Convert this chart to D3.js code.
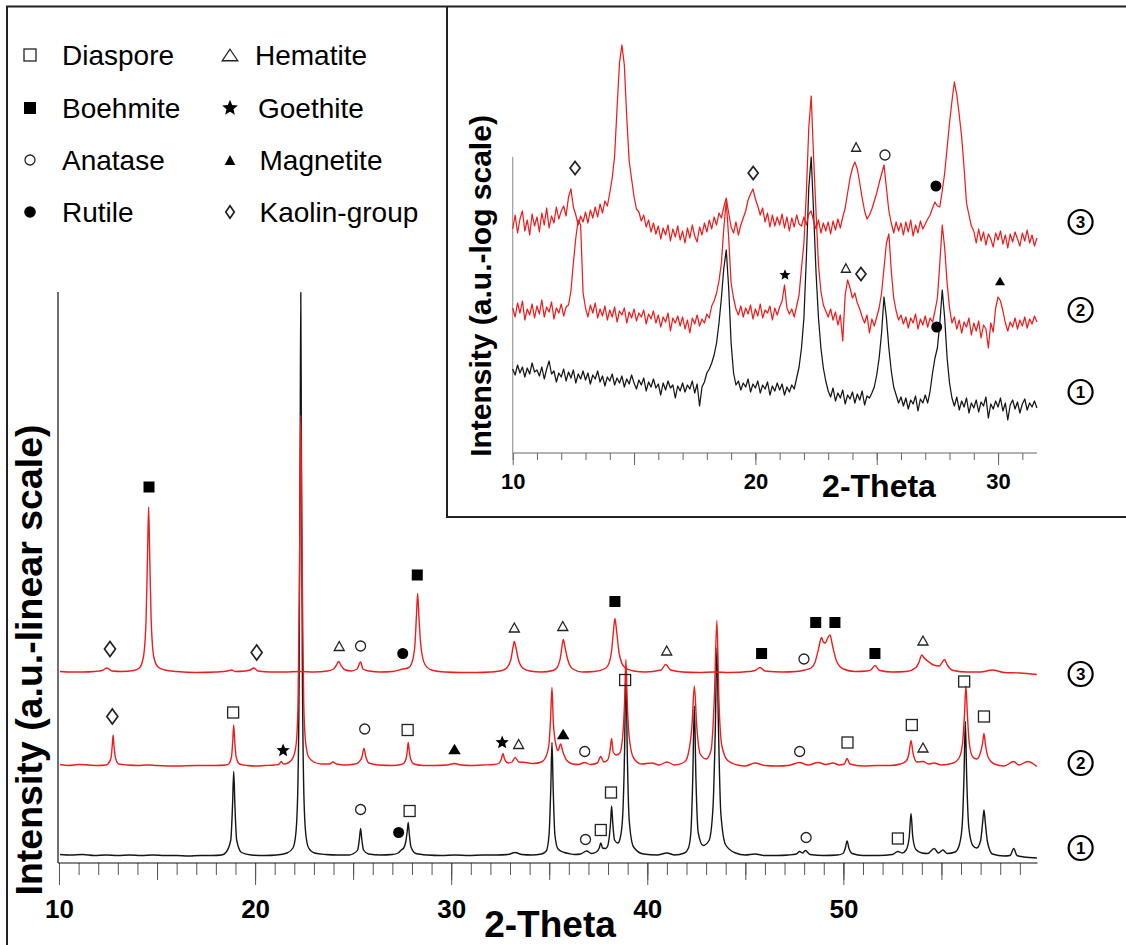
<!DOCTYPE html>
<html>
<head>
<meta charset="utf-8">
<script src="https://cdn.jsdelivr.net/npm/d3@7"></script>
<style>
  body { margin: 0; background: #fff; }
  svg { display: block; }
  .narrow { font-family: "Liberation Sans Narrow", "Arial Narrow", "Liberation Sans", sans-serif; font-weight: bold; }
  .sans { font-family: "Liberation Sans", Arial, sans-serif; }
</style>
</head>
<body>
<svg id="chart" width="1126" height="945"></svg>
<script>
// ---------------- data ----------------
// XRD patterns, linear intensity (a.u.), [2-theta, intensity] per sample.
// Samples are stacked with a vertical offset.
const sample1 = [[10.05,17],[10.6,16],[11.2,17],[11.8,15],[12.4,16],[13.0,15],[13.6,16],[14.2,15],[14.8,16],[15.4,15],[16.0,15],[16.6,14],[17.2,15],[17.8,15],[18.3,16],
  [18.51,21],[18.76,46],[18.85,116],[18.91,183],[18.97,116],[19.06,46],[19.31,21],
  [19.8,16],[20.5,15],[21.1,16],
  [21.63,20],[21.93,30],[22.08,60],[22.18,150],[22.25,400],[22.30,850],[22.33,1141],[22.36,850],[22.41,400],[22.48,150],[22.58,60],[22.73,30],[23.03,20],
  [23.6,17],[24.2,16],[24.8,16],
  [24.98,18],[25.23,26],[25.32,48],[25.38,69],[25.44,48],[25.53,26],[25.78,18],
  [26.4,16],[27.0,17],[27.3,20],[27.45,26],[27.58,30],[27.68,42],[27.76,64],[27.81,81],[27.86,60],[27.95,32],[28.2,19],
  [28.8,16],[29.5,15],[30.2,16],[30.9,15],[31.6,16],[32.3,16],[32.9,17],[33.26,21],[33.6,17],[34.1,16],[34.6,18],
  [34.85,24],[34.99,56],[35.08,151],[35.14,241],[35.2,151],[35.29,56],[35.45,28],
  [35.77,21],[36.0,19],[36.3,17],[36.6,18],[36.91,24],[37.15,19],
  [37.4,22],[37.55,30],[37.63,40],[37.72,30],[37.88,29],
  [37.98,34],[38.07,55],[38.13,82],[38.18,114],[38.24,80],[38.33,46],[38.5,40],
  [38.62,50],[38.74,90],[38.84,220],[38.91,390],[38.98,220],[39.08,85],[39.3,32],[39.8,18],
  [40.5,16],[41.0,20],[41.4,16],[41.9,20],
  [42.1,30],[42.22,60],[42.32,170],[42.40,314],[42.48,170],[42.6,60],[42.85,35],
  [43.15,45],[43.35,110],[43.47,270],[43.55,430],[43.63,270],[43.75,100],[44.0,36],[44.5,20],
  [45.0,16],[45.49,18],[46.0,15],[46.6,15],[47.2,16],[47.6,18],[47.77,23],[47.92,20],[48.06,25],[48.3,17],[49.0,15],[49.7,16],
  [49.98,19],[50.1,30],[50.19,44],[50.28,30],[50.45,19],
  [51.0,15],[51.8,15],[52.5,17],[52.78,23],[53.0,20],
  [53.2,26],[53.36,52],[53.45,99],[53.54,52],[53.7,27],[54.0,20],[54.3,19],[54.63,29],[54.85,20],[55.07,26],[55.3,19],[55.7,22],
  [55.88,32],[56.05,70],[56.15,170],[56.22,283],[56.29,170],[56.4,70],[56.6,35],
  [56.8,30],[57.0,45],[57.1,80],[57.17,106],[57.24,80],[57.35,42],[57.6,18],[58.2,14],[58.5,15],[58.69,29],[58.85,15],[59.2,12],[59.87,10]];

const sample2 = [[10.05,17],[10.5,15],[11.0,17],[11.5,16],[12.0,15],[12.4,16],
  [12.5,18],[12.65,30],[12.71,52],[12.76,76],[12.81,52],[12.88,30],[13.05,18],
  [13.5,16],[14.0,15],[14.5,16],[15.0,15],[16.0,14],[17.0,15],[18.0,15],[18.5,16],
  [18.65,18],[18.8,33],[18.86,64],[18.91,96],[18.96,64],[19.03,33],[19.2,18],
  [19.6,15],[20.0,14],[20.5,15],[21.0,16],[21.2,17],[21.34,23],[21.45,18],
  [21.68,20],[21.95,32],[22.1,60],[22.19,140],[22.26,380],[22.30,600],[22.33,716],[22.36,600],[22.41,380],[22.48,140],[22.58,60],[22.73,32],[23.0,22],
  [23.4,18],[23.8,18],[23.97,22],[24.15,18],[24.6,16],[25.1,18],
  [25.3,22],[25.45,32],[25.55,49],[25.65,32],[25.8,20],
  [26.3,16],[27.0,15],[27.45,17],
  [27.6,20],[27.72,32],[27.77,48],[27.81,61],[27.86,45],[27.93,28],[28.1,18],
  [28.6,15],[29.2,15],[29.8,16],[30.17,19],[30.5,16],[31.0,15],[31.6,16],[32.2,17],
  [32.45,20],[32.56,28],[32.64,39],[32.72,28],[32.9,20],
  [33.1,22],[33.26,31],[33.45,22],[33.8,21],[34.2,19],[34.6,22],
  [34.8,30],[34.98,55],[35.07,110],[35.14,171],[35.21,100],[35.35,55],
  [35.45,45],[35.58,58],[35.7,42],[35.9,25],[36.2,18],[36.5,17],[36.81,21],[37.1,17],
  [37.45,20],[37.63,33],[37.78,22],
  [37.98,26],[38.1,45],[38.18,69],[38.26,42],[38.42,36],
  [38.6,40],[38.75,75],[38.85,150],[38.91,227],[38.97,150],[39.07,75],[39.3,30],[39.7,18],
  [40.24,20],[40.6,16],[41.0,22],[41.4,16],[41.9,22],
  [42.1,40],[42.28,95],[42.40,174],[42.52,95],[42.7,38],
  [43.0,28],[43.25,45],[43.42,150],[43.55,305],[43.65,150],[43.8,55],[44.1,25],[44.6,16],
  [45.0,14],[45.49,20],[46.0,15],[46.6,14],[47.2,15],[47.77,21],[48.2,16],[48.72,21],[49.1,17],[49.47,20],[49.8,16],
  [50.05,18],[50.19,29],[50.33,18],
  [51.0,14],[51.7,15],[52.4,15],[52.9,18],
  [53.2,24],[53.35,40],[53.45,65],[53.55,40],[53.75,22],
  [54.06,23],[54.35,18],[54.63,20],[55.0,16],[55.6,20],
  [55.9,30],[56.08,60],[56.18,120],[56.25,174],[56.32,120],[56.42,60],[56.6,32],[56.8,28],
  [57.0,42],[57.1,60],[57.17,79],[57.25,55],[57.4,30],[57.7,18],[58.2,14],
  [58.69,23],[58.95,16],[59.4,23],[59.87,13]];

const sample3 = [[10.05,17],[10.6,16],[11.2,16],[11.8,17],[12.2,19],[12.45,24],[12.7,18],
  [13.2,17],[13.8,19],
  [14.1,24],[14.3,45],[14.44,120],[14.52,260],[14.57,346],[14.62,260],[14.7,120],[14.84,45],[15.05,26],[15.4,20],
  [16.0,17],[17.0,15],[18.0,16],[18.6,18],[18.8,20],[19.0,17],[19.5,18],
  [19.75,20],[19.93,24],[20.15,18],
  [20.8,16],[21.5,16],[22.3,17],[23.0,16],[23.7,18],
  [24.0,22],[24.15,30],[24.26,37],[24.37,30],[24.55,21],
  [24.9,18],[25.2,22],[25.38,36],[25.5,22],[25.8,18],
  [26.4,16],[27.0,17],[27.53,22],[27.8,24],
  [28.0,35],[28.15,70],[28.23,130],[28.29,173],[28.35,130],[28.45,70],[28.65,32],[29.0,20],
  [29.7,16],[30.5,15],[31.3,15],[32.0,16],[32.6,19],
  [32.85,25],[33.05,42],[33.15,65],[33.22,77],[33.3,65],[33.42,42],[33.65,24],[34.0,18],
  [34.6,16],[35.2,19],
  [35.4,25],[35.57,45],[35.66,70],[35.72,81],[35.8,66],[35.95,40],[36.2,22],
  [36.7,16],[37.3,17],[37.8,22],
  [37.98,28],[38.17,55],[38.28,100],[38.35,123],[38.43,100],[38.58,50],[38.85,25],[39.3,18],
  [39.9,16],[40.7,20],[40.94,31],[41.2,20],
  [41.8,16],[42.6,15],[43.4,16],[44.2,15],[45.2,17],[45.5,19],[45.75,25],[46.0,18],[46.9,16],[47.6,17],[48.04,20],[48.35,24],
  [48.55,35],[48.72,60],[48.82,78],[48.89,85],[48.98,76],[49.08,74],[49.2,84],[49.32,90],[49.45,68],[49.65,38],[50.0,22],
  [50.6,17],[51.2,18],[51.4,20],[51.61,29],[51.85,19],
  [52.5,16],[53.2,17],[53.7,25],
  [53.85,35],[54.0,50],[54.12,44],[54.3,38],[54.6,30],
  [54.9,28],[55.05,36],[55.15,41],[55.3,30],[55.6,19],
  [56.3,16],[57.0,16],[57.6,20],[58.2,15],[59.0,14],[59.87,11]];

const stackOffset = [0, 180, 366];          // vertical shift of samples 1, 2, 3
const sampleNames = ["1", "2", "3"];
const labelLevel = [30, 200, 378];           // where the sample numbers sit (a.u.)

// Log-scale detail, 10-31.6 deg, step 0.1 deg; values are log10 intensity (a.u., stacked)
const insetStart = 10.0, insetStep = 0.1;
const logSample1 = [
  1.84,1.78,1.88,1.80,1.86,1.76,1.85,1.79,1.90,1.81,
  1.83,1.77,1.86,1.74,1.84,1.92,1.79,1.82,1.71,1.80,
  1.76,1.84,1.72,1.81,1.75,1.83,1.70,1.79,1.74,1.82,
  1.73,1.80,1.69,1.78,1.74,1.82,1.71,1.77,1.67,1.76,
  1.72,1.79,1.68,1.75,1.70,1.77,1.66,1.74,1.69,1.78,
  1.70,1.64,1.73,1.68,1.75,1.62,1.71,1.66,1.74,1.65,
  1.69,1.58,1.70,1.63,1.72,1.65,1.68,1.55,1.67,1.62,
  1.70,1.61,1.68,1.64,1.72,1.60,1.69,1.47,1.66,1.71,
  1.80,1.84,1.90,1.98,2.10,2.30,2.55,2.85,3.03,2.65,
  2.10,1.80,1.68,1.72,1.63,1.70,1.66,1.74,1.61,1.69,
  1.65,1.72,1.60,1.68,1.64,1.71,1.58,1.67,1.62,1.70,
  1.63,1.69,1.58,1.66,1.61,1.68,1.64,1.75,1.86,2.05,
  2.35,2.95,3.65,3.96,3.40,2.80,2.35,2.05,1.85,1.72,
  1.62,1.56,1.65,1.52,1.60,1.55,1.63,1.49,1.58,1.54,
  1.61,1.50,1.59,1.53,1.62,1.48,1.57,1.55,1.60,1.66,
  1.78,1.95,2.20,2.56,2.35,2.05,1.82,1.66,1.58,1.50,
  1.56,1.47,1.55,1.44,1.53,1.49,1.57,1.42,1.54,1.50,
  1.58,1.50,1.62,1.80,1.95,2.05,2.30,2.63,2.35,1.95,
  1.70,1.55,1.47,1.56,1.43,1.52,1.46,1.55,1.40,1.50,
  1.45,1.53,1.41,1.51,1.47,1.56,1.35,1.49,1.44,1.52,
  1.46,1.55,1.42,1.50,1.33,1.48,1.53,1.44,1.51,1.40,
  1.49,1.54,1.43,1.50,1.46,1.52,1.45];
const logSample2 = [
  2.45,2.36,2.50,2.40,2.52,2.33,2.44,2.38,2.49,2.35,
  2.47,2.39,2.53,2.36,2.46,2.41,2.51,2.34,2.45,2.40,
  2.49,2.37,2.46,2.48,2.62,2.90,3.15,3.33,3.28,2.60,
  2.45,2.36,2.48,2.40,2.50,2.35,2.44,2.37,2.47,2.33,
  2.43,2.36,2.46,2.31,2.42,2.38,2.45,2.30,2.41,2.35,
  2.44,2.32,2.40,2.36,2.43,2.29,2.39,2.34,2.42,2.30,
  2.38,2.26,2.36,2.31,2.40,2.22,2.35,2.30,2.37,2.27,
  2.36,2.24,2.33,2.20,2.35,2.29,2.38,2.27,2.34,2.30,
  2.39,2.35,2.47,2.52,2.60,2.72,2.90,3.25,3.52,3.15,
  2.70,2.55,2.44,2.38,2.47,2.36,2.45,2.39,2.48,2.34,
  2.44,2.37,2.49,2.35,2.43,2.40,2.47,2.33,2.45,2.38,
  2.46,2.52,2.68,2.45,2.39,2.44,2.36,2.47,2.58,2.85,
  3.10,3.60,4.25,4.57,3.95,3.40,2.88,2.62,2.48,2.42,
  2.36,2.44,2.33,2.41,2.28,2.38,2.12,2.58,2.73,2.65,
  2.55,2.60,2.50,2.44,2.36,2.30,2.38,2.20,2.34,2.27,
  2.36,2.45,2.60,2.85,3.10,3.19,2.82,2.55,2.42,2.33,
  2.38,2.29,2.36,2.25,2.35,2.30,2.39,2.24,2.34,2.28,
  2.37,2.26,2.35,2.31,2.42,2.55,2.90,3.28,3.05,2.70,
  2.45,2.30,2.36,2.24,2.33,2.20,2.31,2.26,2.35,2.18,
  2.30,2.22,2.32,2.15,2.28,2.24,2.05,2.30,2.21,2.45,
  2.56,2.52,2.42,2.30,2.22,2.31,2.26,2.35,2.24,2.33,
  2.27,2.36,2.25,2.34,2.29,2.37,2.31];
const logSample3 = [
  3.24,3.38,3.20,3.34,3.42,3.22,3.33,3.18,3.39,3.27,
  3.36,3.21,3.40,3.28,3.45,3.25,3.37,3.30,3.46,3.34,
  3.42,3.47,3.37,3.56,3.64,3.46,3.38,3.28,3.37,3.31,
  3.41,3.30,3.43,3.35,3.46,3.36,3.49,3.40,3.52,3.47,
  3.60,3.75,3.97,4.45,4.90,5.08,4.88,4.35,3.92,3.74,
  3.56,3.44,3.41,3.32,3.38,3.26,3.33,3.21,3.30,3.19,
  3.27,3.14,3.25,3.18,3.28,3.12,3.24,3.16,3.27,3.13,
  3.22,3.10,3.25,3.15,3.28,3.17,3.11,3.26,3.18,3.30,
  3.21,3.33,3.24,3.36,3.28,3.40,3.35,3.46,3.55,3.40,
  3.26,3.20,3.31,3.18,3.28,3.35,3.42,3.53,3.59,3.64,
  3.54,3.47,3.38,3.45,3.31,3.40,3.26,3.38,3.27,3.36,
  3.28,3.39,3.25,3.36,3.22,3.35,3.26,3.38,3.29,3.27,
  3.36,3.28,3.39,3.42,3.32,3.24,3.33,3.20,3.30,3.22,
  3.31,3.19,3.32,3.23,3.34,3.25,3.36,3.45,3.60,3.75,
  3.85,3.91,3.84,3.70,3.55,3.42,3.34,3.38,3.44,3.52,
  3.60,3.70,3.79,3.88,3.65,3.42,3.30,3.20,3.31,3.22,
  3.30,3.18,3.31,3.21,3.33,3.17,3.28,3.20,3.32,3.24,
  3.29,3.34,3.38,3.45,3.51,3.47,3.46,3.62,3.80,4.05,
  4.30,4.52,4.71,4.58,4.38,4.16,3.85,3.50,3.38,3.27,
  3.22,3.10,3.24,3.12,3.21,3.08,3.19,3.14,3.06,3.20,
  3.13,3.22,3.09,3.18,3.05,3.19,3.11,3.21,3.14,3.07,
  3.20,3.12,3.23,3.10,3.18,3.07,3.15];
const insetLabelLevel = [1.61, 2.43, 3.31];

// Phase identifications: [symbol, 2-theta, intensity level]
const mainMarks = [
  ["diamond",12.60,428],["squareFilled",14.59,752],["diamond",20.08,421],["triangle",24.29,434],["circle",25.38,434],
  ["dot",27.53,419],["squareFilled",28.27,576],["triangle",33.22,471],["triangle",35.69,474],["squareFilled",38.35,523],
  ["triangle",40.99,425],["squareFilled",45.83,419],["circle",47.99,408],["squareFilled",48.59,481],["squareFilled",49.57,481],
  ["squareFilled",51.61,419],["triangle",54.06,445],
  ["diamond",12.72,293],["square",18.88,301],["star",21.43,225],["circle",25.59,268],["square",27.78,266],
  ["triangleFilled",30.17,228],["star",32.60,241],["triangle",33.44,238],["triangleFilled",35.71,258],["circle",36.81,223],
  ["square",38.87,366],["circle",47.77,223],["square",50.21,241],["square",53.49,276],["triangle",54.06,231],
  ["square",56.16,363],["square",57.17,293],
  ["circle",25.38,107],["dot",27.32,61],["square",27.88,104],["circle",36.85,47],["square",37.63,66],
  ["square",38.15,141],["circle",48.10,51],["square",52.78,49]
];
const insetMarks = [
  ["diamond",12.57,3.85],["diamond",19.91,3.80],["triangle",24.15,4.06],["circle",25.34,3.98],["dot",27.44,3.67],
  ["star",21.22,2.78],["triangle",23.73,2.85],["diamond",24.35,2.79],["dot",27.47,2.26],["triangleFilled",30.08,2.72]
];

const legendLeft = [["square","Diaspore"],["squareFilled","Boehmite"],["circle","Anatase"],["dot","Rutile"]];
const legendRight = [["triangle","Hematite"],["star","Goethite"],["triangleFilled","Magnetite"],["diamond","Kaolin-group"]];

const mainTicksMajor = [10, 20, 30, 40, 50];
const insetTicksMajor = [10, 20, 30];

// ---------------- drawing ----------------
const svg = d3.select("#chart");
const RED = "#ee1d1d", BLACK = "#151515";
const seriesColor = [BLACK, RED, RED];

// outer frame and inset box
svg.append("path").attr("d", "M7,945V6.5H1126").attr("fill", "none").attr("stroke", "#222").attr("stroke-width", 2);
svg.append("path").attr("d", "M447,6.5V517H1126").attr("fill", "none").attr("stroke", "#222").attr("stroke-width", 2);

function markPath(type, cx, cy, s) {
  if (type === "triangle" || type === "triangleFilled") {
    const w = type === "triangle" ? s.tw : s.tfw, h = type === "triangle" ? s.th : s.tfh;
    return `M${cx},${cy - h / 2}L${cx + w / 2},${cy + h / 2}L${cx - w / 2},${cy + h / 2}Z`;
  }
  if (type === "diamond") {
    return `M${cx},${cy - s.dh / 2}L${cx + s.dw / 2},${cy}L${cx},${cy + s.dh / 2}L${cx - s.dw / 2},${cy}Z`;
  }
  if (type === "star") {
    const pts = d3.range(10).map(i => {
      const a = -Math.PI / 2 + i * Math.PI / 5, r = i % 2 ? s.star * 0.45 : s.star;
      return [cx + r * Math.cos(a), cy + r * Math.sin(a)];
    });
    return "M" + pts.map(p => p.join(",")).join("L") + "Z";
  }
  return null;
}

function drawMark(g, type, cx, cy, s) {
  const open = { fill: "none", stroke: "#222", "stroke-width": 1.3 };
  let el;
  if (type === "square" || type === "squareFilled") {
    el = g.append("rect").attr("x", cx - s.sq / 2).attr("y", cy - s.sq / 2).attr("width", s.sq).attr("height", s.sq);
  } else if (type === "circle") {
    el = g.append("circle").attr("cx", cx).attr("cy", cy).attr("r", s.r);
  } else if (type === "dot") {
    el = g.append("circle").attr("cx", cx).attr("cy", cy).attr("r", s.rd);
  } else {
    el = g.append("path").attr("d", markPath(type, cx, cy, s));
  }
  if (type === "squareFilled" || type === "dot" || type === "triangleFilled" || type === "star") {
    el.attr("fill", "#000").attr("stroke", "none");
  } else {
    Object.entries(open).forEach(([k, v]) => el.attr(k, v));
    if (type === "diamond") el.attr("stroke-width", 1.7);
  }
}

function circledLabel(g, cx, cy, txt) {
  g.append("circle").attr("cx", cx).attr("cy", cy).attr("r", 12)
    .attr("fill", "none").attr("stroke", "#000").attr("stroke-width", 2.2);
  g.append("text").attr("class", "sans").attr("x", cx).attr("y", cy + 6.2)
    .attr("text-anchor", "middle").attr("font-size", 17).attr("font-weight", "bold").text(txt);
}

// ---------- legend ----------
const legendSize = { sq: 12, r: 5, rd: 5.8, tw: 15.5, th: 11.5, tfw: 10.5, tfh: 10, star: 8.2, dw: 8.5, dh: 12.5 };
const legendRows = [65, 118, 170, 222];
const legend = svg.append("g");
legendLeft.forEach((d, i) => {
  drawMark(legend, d[0], 30, legendRows[i] - 10, legendSize);
  legend.append("text").attr("class", "sans").attr("x", 62).attr("y", legendRows[i])
    .attr("font-size", 28).text(d[1]);
});
const rightTextX = [255, 258, 259.5, 259.5];
legendRight.forEach((d, i) => {
  drawMark(legend, d[0], 230, legendRows[i] - 10, legendSize);
  legend.append("text").attr("class", "sans").attr("x", rightTextX[i]).attr("y", legendRows[i])
    .attr("font-size", 28).text(d[1]);
});

// ---------- main linear-scale plot ----------
const xMain = d3.scaleLinear().domain([10, 59.9]).range([59, 1037.5]);
const yMain = d3.scaleLinear().domain([0, 1142]).range([863, 292]);
const main = svg.append("g");

// tick marks: 1 deg minor, 5 deg medium, 10 deg major
[[d3.range(10, 60, 1), 12], [d3.range(10, 60, 5), 17], [d3.range(10, 60, 10), 22]].forEach(([vals, len]) => {
  main.append("g").attr("transform", "translate(0,863)")
    .call(d3.axisBottom(xMain).tickValues(vals).tickSize(len).tickSizeOuter(0).tickFormat(""))
    .call(g => g.select(".domain").remove())
    .call(g => g.selectAll(".tick line").attr("stroke", "#555").attr("stroke-width", 1));
});
main.append("g").attr("transform", "translate(0,863)")
  .call(d3.axisBottom(xMain).tickValues(mainTicksMajor).tickSize(22).tickPadding(15).tickFormat(d3.format("d")))
  .call(g => g.select(".domain").remove())
  .call(g => g.selectAll(".tick line").remove())
  .call(g => g.selectAll(".tick text").attr("class", "narrow").attr("font-size", 26).attr("fill", "#000"));

main.append("line").attr("x1", xMain(10) - 1).attr("x2", xMain(59.9)).attr("y1", 863).attr("y2", 863)
  .attr("stroke", "#111").attr("stroke-width", 1.2);
main.append("line").attr("x1", xMain(10) - 1).attr("x2", xMain(10) - 1).attr("y1", yMain(0)).attr("y2", yMain(1142))
  .attr("stroke", "#111").attr("stroke-width", 1.2);

main.append("text").attr("class", "narrow").attr("x", 550).attr("y", 937)
  .attr("text-anchor", "middle").attr("font-size", 37).text("2-Theta");
main.append("text").attr("class", "sans").attr("font-weight", "bold").attr("font-size", 37.5)
  .attr("text-anchor", "middle").attr("transform", "translate(42,660) rotate(-90)")
  .text("Intensity (a.u.-linear scale)");

[sample1, sample2, sample3].forEach((data, k) => {
  const line = d3.line().x(d => xMain(d[0])).y(d => yMain(d[1] + stackOffset[k])).curve(d3.curveMonotoneX);
  main.append("path").datum(data).attr("d", line).attr("fill", "none")
    .attr("stroke", seriesColor[k]).attr("stroke-width", 1.4).attr("stroke-linejoin", "round");
});

const mainSize = { sq: 11, r: 5, rd: 5.5, tw: 10, th: 9, tfw: 12.5, tfh: 10.5, star: 7, dw: 11, dh: 15 };
mainMarks.forEach(m => drawMark(main, m[0], xMain(m[1]), yMain(m[2]), mainSize));
sampleNames.forEach((n, k) => circledLabel(main, xMain(62.1), yMain(labelLevel[k]), n));

// ---------- inset log-scale plot ----------
const xIn = d3.scaleLinear().domain([10, 31.6]).range([512.7, 1036.9]);
const yIn = d3.scaleLinear().domain([1, 3.96]).range([453, 157]);
const inset = svg.append("g");

[[d3.range(10, 32, 1), 7], [d3.range(10, 32, 5), 12]].forEach(([vals, len]) => {
  inset.append("g").attr("transform", "translate(0,453)")
    .call(d3.axisBottom(xIn).tickValues(vals).tickSize(len).tickSizeOuter(0).tickFormat(""))
    .call(g => g.select(".domain").remove())
    .call(g => g.selectAll(".tick line").attr("stroke", "#666").attr("stroke-width", 1));
});
inset.append("g").attr("transform", "translate(0,453)")
  .call(d3.axisBottom(xIn).tickValues(insetTicksMajor).tickSize(12).tickPadding(8).tickFormat(d3.format("d")))
  .call(g => g.select(".domain").remove())
  .call(g => g.selectAll(".tick line").remove())
  .call(g => g.selectAll(".tick text").attr("class", "narrow").attr("font-size", 22).attr("fill", "#000"));

inset.append("line").attr("x1", xIn(10)).attr("x2", xIn(31.6)).attr("y1", 453).attr("y2", 453)
  .attr("stroke", "#666").attr("stroke-width", 1.2);
inset.append("line").attr("x1", xIn(10)).attr("x2", xIn(10)).attr("y1", yIn(1)).attr("y2", yIn(3.96))
  .attr("stroke", "#999").attr("stroke-width", 1.2);

inset.append("text").attr("class", "narrow").attr("x", 879).attr("y", 497)
  .attr("text-anchor", "middle").attr("font-size", 32).text("2-Theta");
inset.append("text").attr("class", "sans").attr("font-weight", "bold").attr("font-size", 30)
  .attr("text-anchor", "middle").attr("transform", "translate(491,286) rotate(-90)")
  .text("Intensity (a.u.-log scale)");

[logSample1, logSample2, logSample3].forEach((vals, k) => {
  const line = d3.line().x((d, i) => xIn(insetStart + i * insetStep)).y(d => yIn(d));
  inset.append("path").datum(vals).attr("d", line).attr("fill", "none")
    .attr("stroke", seriesColor[k]).attr("stroke-width", 1.25).attr("stroke-linejoin", "round");
});

const insetSize = { sq: 11, r: 5, rd: 5.5, tw: 9, th: 8.5, tfw: 10, tfh: 8.5, star: 5.8, dw: 10, dh: 13 };
insetMarks.forEach(m => drawMark(inset, m[0], xIn(m[1]), yIn(m[2]), insetSize));
sampleNames.forEach((n, k) => circledLabel(inset, xIn(33.4), yIn(insetLabelLevel[k]), n));
</script>
</body>
</html>
